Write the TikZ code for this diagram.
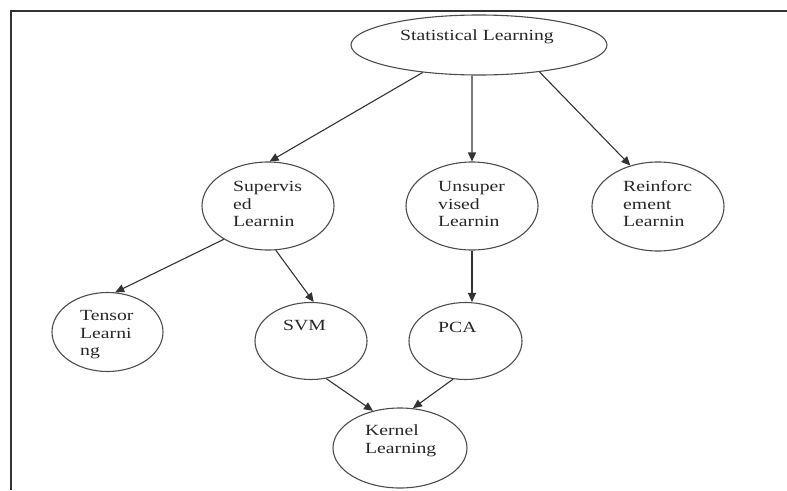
\documentclass[tikz,border=0pt]{standalone}
\usepackage{fontspec}
\setmainfont{Liberation Serif}[FakeStretch=1.27]
\usetikzlibrary{shapes.geometric,arrows.meta}
\begin{document}
\begin{tikzpicture}[x=1pt,y=-1pt,
  oval/.style={ellipse,draw=black!70,line width=1.1pt,inner sep=0pt},
  lbl/.style={anchor=west,inner sep=0pt,align=left,text=black!85,
    font={\fontsize{15.5}{17.5}\selectfont}},
  conn/.style={draw=black!80,line width=1.1pt,-{Triangle[length=9pt,width=8pt]}},
  frame/.style={draw=black!80,line width=1.5pt}]
\useasboundingbox (0,0) rectangle (787,490);
% frame
\coordinate (fbl) at (11,490);
\coordinate (ftl) at (11,11);
\coordinate (ftr) at (787,11);
\draw[frame] (fbl) -- (ftl) -- (ftr);
% ellipses
\node[oval,minimum width=256pt,minimum height=60pt] (sl) at (479,45) {};
\node[oval,minimum width=132pt,minimum height=88pt] (sup) at (268,206) {};
\node[oval,minimum width=132pt,minimum height=88pt] (uns) at (472,206) {};
\node[oval,minimum width=132pt,minimum height=89pt] (rei) at (658,206.5) {};
\node[oval,minimum width=111pt,minimum height=79pt] (ten) at (107.5,332) {};
\node[oval,minimum width=112pt,minimum height=77pt] (svm) at (311,341) {};
\node[oval,minimum width=113pt,minimum height=77pt] (pca) at (465.5,341) {};
\node[oval,minimum width=134pt,minimum height=80pt] (ker) at (400,448) {};
% texts
\node[lbl,anchor=base west] (slt) at (400,40) {Statistical Learning};
\node[lbl] (supt) at (233,204) {Supervis\\ed\\Learnin};
\node[lbl] (unst) at (438,204) {Unsuper\\vised\\Learnin};
\node[lbl] (reit) at (623,204) {Reinforc\\ement\\Learnin};
\node[lbl] (tent) at (80,335) {Tensor\\Learni\\ng};
\node[lbl,anchor=base west] (svmt) at (283,330) {SVM};
\node[lbl,anchor=base west] (pcat) at (438,332) {PCA};
\node[lbl] (kert) at (365,441) {Kernel\\Learning};
% connectors
\draw[conn] (sl.206) -- (sup.88);
\draw[conn] (sl.257) -- (uns.north);
\draw[conn] (sl.336) -- (rei.124);
\draw[conn] (sup.217) -- (ten.79);
\draw[conn] (sup.280) -- (svm.86);
\draw[conn] (uns.south) -- (uns.south |- pca.north);
\draw[conn] (svm.292) -- (ker.126);
\draw[conn] (pca.252) -- (ker.72);
\end{tikzpicture}
\end{document}
